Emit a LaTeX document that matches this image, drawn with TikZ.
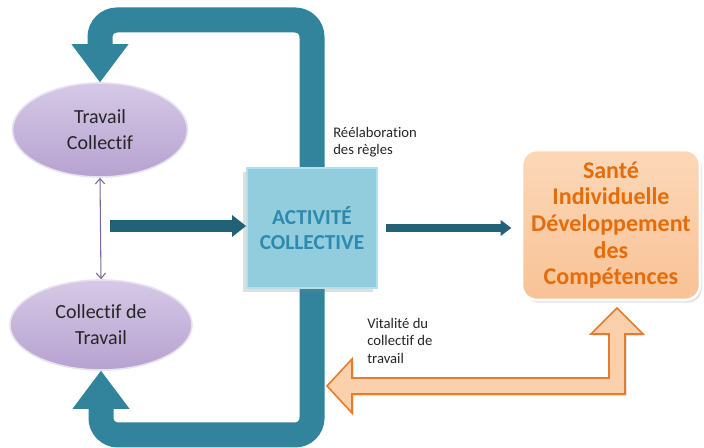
\documentclass[tikz,border=0pt]{standalone}
\usepackage{fontspec}
\setmainfont{Carlito}[Ligatures=NoCommon]
\usetikzlibrary{arrows.meta,shapes.geometric,shadows,calc}
\definecolor{blueU}{RGB}{49,132,155}
\definecolor{darkteal}{RGB}{33,98,118}
\definecolor{boxfill}{RGB}{146,205,221}
\definecolor{boxedge}{RGB}{178,224,236}
\definecolor{activtext}{RGB}{45,138,175}
\definecolor{elltop}{RGB}{214,201,230}
\definecolor{ellmid}{RGB}{198,181,220}
\definecolor{ellbot}{RGB}{182,162,208}
\definecolor{elledge}{RGB}{232,225,242}
\definecolor{santop}{RGB}{252,216,184}
\definecolor{sanbot}{RGB}{248,194,150}
\definecolor{orangetext}{RGB}{228,108,10}
\definecolor{orfill}{RGB}{251,208,172}
\definecolor{oredge}{RGB}{228,124,44}
\definecolor{purpleline}{RGB}{125,104,160}
\tikzset{
  ell/.style={ellipse, shape border uses incircle=false, top color=elltop, middle color=ellmid, bottom color=ellbot, draw=elledge, line width=1.2pt, inner sep=0pt, align=center, font=\fontsize{15}{19.5}\selectfont, text=black!85},
  actbox/.style={rectangle, fill=boxfill, draw=boxedge, line width=1.5pt, minimum width=97.5pt, minimum height=90pt, align=center, font=\fontsize{16}{19}\selectfont\bfseries, text=activtext, drop shadow={shadow xshift=-3pt, shadow yshift=-3pt, opacity=0.25}},
  sanbox/.style={rectangle, rounded corners=11pt, top color=santop, bottom color=sanbot, draw=white, line width=2pt, minimum width=133.5pt, minimum height=112.5pt, align=center, font=\fontsize{18}{20}\selectfont\bfseries, text=orangetext, drop shadow={shadow xshift=1.5pt, shadow yshift=-2pt, opacity=0.25}},
  bigU/.style={draw=blueU, line width=18.75pt, rounded corners=12.75pt, -{Triangle[length=28.5pt,width=42.75pt,line width=0pt]}},
  lbl/.style={align=left, inner sep=0pt, font=\fontsize{11}{13}\selectfont, text=black!85},
}
\begin{document}
\begin{tikzpicture}[x=0.75pt,y=-0.75pt]
\useasboundingbox (0,0) rectangle (704,448);
\fill[white] (0,0) rectangle (704,448);
% nodes
\node[ell, minimum width=131.25pt, minimum height=70.5pt] (tc) at (100,130) {Travail\\Collectif};
\node[ell, minimum width=136.5pt, minimum height=67.5pt] (cdt) at (101,325) {Collectif de\\Travail};
\coordinate (topy) at (0,20);
\coordinate (boty) at (0,435);
% big U arrows (behind box)
\draw[bigU] (312,168) |- (tc.north |- topy) -- (tc.north);
\draw[bigU] (312,288) |- (cdt.south |- boty) -- (cdt.south);
\node[actbox] (act) at (312,228) {ACTIVITÉ\\COLLECTIVE};
\node[sanbox] (san) at (611,225) {Santé\\Individuelle\\Développement\\des\\Compétences};
% thin purple double arrow
\draw[purpleline, line width=0.8pt, {Straight Barb[length=4pt,width=7pt]}-{Straight Barb[length=4pt,width=7pt]}] (tc.south) -- (cdt.north);
% left arrow into box
\coordinate (lstart) at (110,226);
\draw[darkteal, line width=9pt, -{Triangle[length=10.5pt,width=16.5pt,line width=0pt]}] (lstart) -- (act.west |- lstart);
% right arrow to Santé
\draw[darkteal, line width=5.5pt, -{Triangle[length=8pt,width=12pt,line width=0pt]}, shorten <=6pt, shorten >=7pt] (act.east) -- (san.west |- act.east);
% orange hollow arrow
\coordinate (otip) at (617,308);
\filldraw[fill=orfill, draw=oredge, line width=1.2pt, line join=miter, drop shadow={shadow xshift=1.5pt, shadow yshift=-1.5pt, opacity=0.2}]
  (otip) -- (643,334) -- (625,334) -- (625,394) -- (352,394) -- (352,413) -- (327,386)
  -- (352,359) -- (352,378) -- (609,378) -- (609,334) -- (591,334) -- cycle;
% labels
\node[lbl, anchor=north west] (reel) at (333,127) {Réélaboration\\des règles};
\node[lbl, anchor=north west] (vita) at (367,318) {Vitalité du\\collectif de\\travail};
\end{tikzpicture}
\end{document}
